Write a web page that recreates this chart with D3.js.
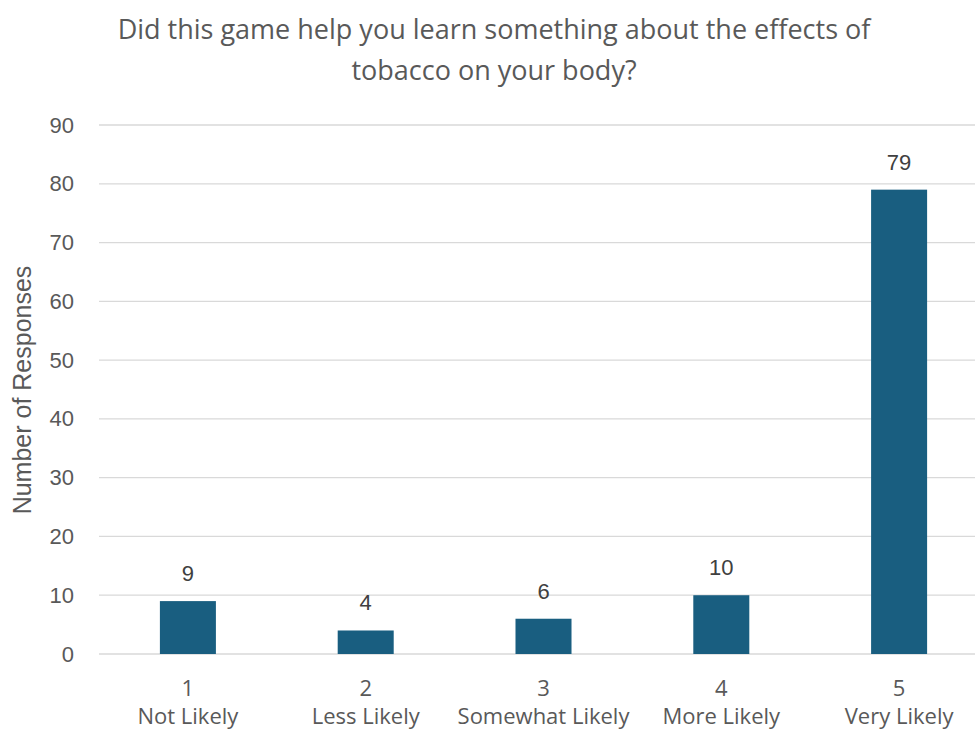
<!DOCTYPE html>
<html>
<head>
<meta charset="utf-8">
<script src="https://cdn.jsdelivr.net/npm/d3@7"></script>
<style>
  html, body { margin: 0; padding: 0; background: #fff; }
  svg { display: block; }
</style>
</head>
<body>
<svg id="chart" width="975" height="731"></svg>
<script>
// Survey responses per rating
const ratings = ["1", "2", "3", "4", "5"];
const ratingNames = ["Not Likely", "Less Likely", "Somewhat Likely", "More Likely", "Very Likely"];
const responses = [9, 4, 6, 10, 79];
const yTicks = [0, 10, 20, 30, 40, 50, 60, 70, 80, 90];
const titleLines = ["Did this game help you learn something about the effects of", "tobacco on your body?"];
const yTitle = "Number of Responses";

const W = 975, H = 731;
const plot = { left: 99, right: 988, top: 125, bottom: 654 };
const textColor = "#595959";
const barColor = "#195e80";
const gridColor = "#d9d9d9";
const numFont = "'Liberation Sans', Arial, sans-serif";
const textFont = "'Open Sans', 'Noto Sans', sans-serif";

const svg = d3.select("#chart");

const x = d3.scaleBand().domain(ratings).range([plot.left, plot.right]).paddingInner(0.685).paddingOuter(0.3425);
const y = d3.scaleLinear().domain([0, 90]).range([plot.bottom, plot.top]);

// Gridlines
svg.append("g")
  .selectAll("line")
  .data(yTicks)
  .join("line")
  .attr("x1", plot.left).attr("x2", plot.right)
  .attr("y1", d => y(d)).attr("y2", d => y(d))
  .attr("stroke", gridColor).attr("stroke-width", 1.3);

// Y axis labels
const yAxis = svg.append("g")
  .attr("transform", `translate(${plot.left - 25},0)`)
  .call(d3.axisLeft(y).tickValues(yTicks).tickSize(0).tickPadding(0));
yAxis.select(".domain").remove();
yAxis.selectAll("text")
  .attr("fill", textColor)
  .style("font-family", numFont)
  .style("font-size", "22px");

// Y axis title
svg.append("text")
  .attr("transform", `translate(31,390) rotate(-90)`)
  .attr("text-anchor", "middle")
  .attr("fill", textColor)
  .style("font-family", numFont)
  .style("font-size", "25px")
  .text(yTitle);

// Bars
svg.append("g")
  .selectAll("rect")
  .data(responses)
  .join("rect")
  .attr("x", (d, i) => x(ratings[i]))
  .attr("width", x.bandwidth())
  .attr("y", d => y(d))
  .attr("height", d => y(0) - y(d))
  .attr("fill", barColor);

// Value labels
svg.append("g")
  .selectAll("text")
  .data(responses)
  .join("text")
  .attr("x", (d, i) => x(ratings[i]) + x.bandwidth() / 2)
  .attr("y", d => y(d) - 20)
  .attr("text-anchor", "middle")
  .attr("fill", "#404040")
  .style("font-family", numFont)
  .style("font-size", "22px")
  .text(d => d);

// Category labels: rating number and name
const xAxis = svg.append("g")
  .attr("transform", `translate(0,${plot.bottom})`)
  .call(d3.axisBottom(x).tickSize(0).tickFormat(() => ""));
xAxis.select(".domain").remove();
xAxis.selectAll(".tick").each(function(d, i) {
  const t = d3.select(this);
  t.select("text").remove();
  t.append("text")
    .attr("y", 42)
    .attr("text-anchor", "middle")
    .attr("fill", textColor)
    .style("font-family", textFont)
    .style("font-size", "22px")
    .text(d);
  t.append("text")
    .attr("y", 70)
    .attr("text-anchor", "middle")
    .attr("fill", textColor)
    .style("font-family", textFont)
    .style("font-size", "22px")
    .text(ratingNames[i]);
});

// Title
svg.append("g")
  .selectAll("text")
  .data(titleLines)
  .join("text")
  .attr("x", 494)
  .attr("y", (d, i) => 39 + i * 41)
  .attr("text-anchor", "middle")
  .attr("fill", textColor)
  .style("font-family", textFont)
  .style("font-size", "27px")
  .text(d => d);
</script>
</body>
</html>
